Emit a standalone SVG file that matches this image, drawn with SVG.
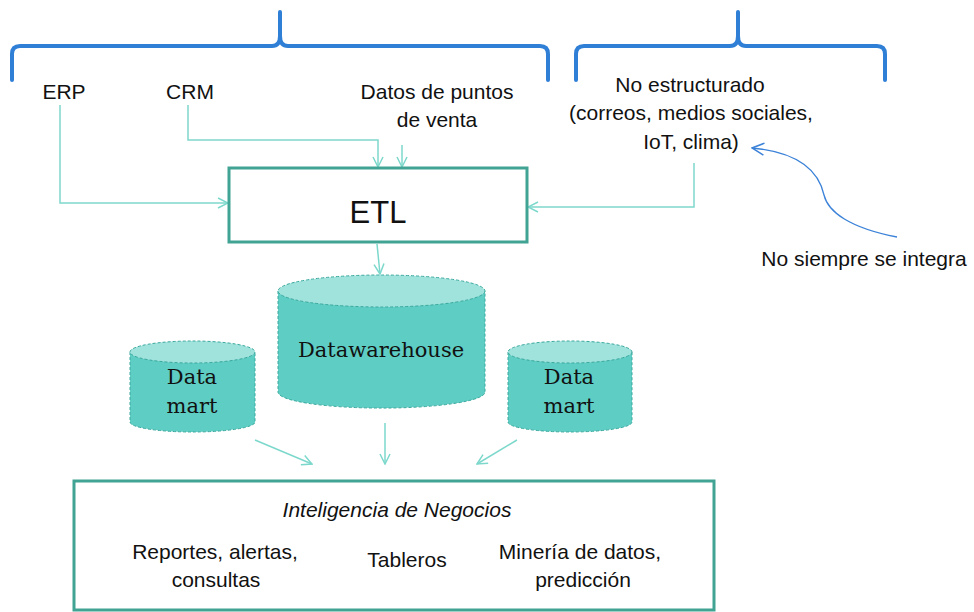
<svg xmlns="http://www.w3.org/2000/svg" width="974" height="612" viewBox="0 0 974 612">
<style>
.t{font-family:"Liberation Sans",Arial,sans-serif;font-size:21px;fill:#111;text-anchor:middle}
.s{font-family:"DejaVu Serif","Liberation Serif",serif;font-size:21px;fill:#111;text-anchor:middle}
.brace{fill:none;stroke:#2f7fd6;stroke-width:4;stroke-linecap:round;stroke-linejoin:round}
.conn{fill:none;stroke:#7dd8cc;stroke-width:1.5}
.box{fill:#fff;stroke:#40a393;stroke-width:3}
.cylb{fill:#5ecdc3;stroke:#3aa89e;stroke-width:1;stroke-dasharray:3 2}
.cylt{fill:#a0e2dc;stroke:#3aa89e;stroke-width:1;stroke-dasharray:3 2}
</style>
<defs>
<marker id="ah" viewBox="0 0 12 12" refX="11" refY="6" markerWidth="12" markerHeight="12" markerUnits="userSpaceOnUse" orient="auto">
<path d="M1 1 L11 6 L1 11" fill="none" stroke="#7dd8cc" stroke-width="1.5"/>
</marker>
<marker id="ab" viewBox="0 0 14 14" refX="13" refY="7" markerWidth="14" markerHeight="14" markerUnits="userSpaceOnUse" orient="auto">
<path d="M1 1 L13 7 L1 13" fill="none" stroke="#3b82d8" stroke-width="1.5"/>
</marker>
</defs>
<g id="braces">
<path class="brace" d="M12 80 L12 54 Q12 46 20 46 L272 46 Q280 46 280 36 L280 12 L280 36 Q280 46 288 46 L540 46 Q548 46 548 54 L548 80"/>
<path class="brace" d="M576 80 L576 54 Q576 46 584 46 L730 46 Q738 46 738 36 L738 12 L738 36 Q738 46 746 46 L877 46 Q885 46 885 54 L885 80"/>
</g>
<g id="connectors">
<path class="conn" d="M60 105 L60 203 L228 203" marker-end="url(#ah)"/>
<path class="conn" d="M188 105 L188 140 L378 140 L378 167" marker-end="url(#ah)"/>
<path class="conn" d="M402 145 L402 167" marker-end="url(#ah)"/>
<path class="conn" d="M694 163 L694 207 L528 207" marker-end="url(#ah)"/>
<path class="conn" d="M377 244 L380 274" marker-end="url(#ah)"/>
<path class="conn" d="M255 440 L312 464" marker-end="url(#ah)"/>
<path class="conn" d="M385 423 L385 464" marker-end="url(#ah)"/>
<path class="conn" d="M517 440 L477 464" marker-end="url(#ah)"/>
<path d="M897 237 C850 228 828 212 824 195 C818 168 795 152 752 148" fill="none" stroke="#3b82d8" stroke-width="1.3" marker-end="url(#ab)"/>
</g>
<g id="erp"><text class="t" x="64" y="99">ERP</text></g>
<g id="crm"><text class="t" x="190" y="99">CRM</text></g>
<g id="pos"><text class="t" x="437" y="99">Datos de puntos</text><text class="t" x="437" y="127">de venta</text></g>
<g id="unstructured">
<text class="t" x="690" y="92">No estructurado</text>
<text class="t" x="691" y="120">(correos, medios sociales,</text>
<text class="t" x="691" y="149">IoT, clima)</text>
</g>
<g id="note"><text class="t" x="864" y="266">No siempre se integra</text></g>
<g id="etl">
<rect class="box" x="229" y="168" width="298" height="74"/>
<text class="t" x="378" y="223" style="font-size:31px">ETL</text>
</g>
<g id="datawarehouse">
<path class="cylb" d="M278 291 L278 392 A103 16 0 0 0 485 392 L485 291"/>
<ellipse class="cylt" cx="381.5" cy="291" rx="103.5" ry="16"/>
<text class="s" x="381" y="357">Datawarehouse</text>
</g>
<g id="datamart-left">
<path class="cylb" d="M130 352 L130 422 A62.5 10 0 0 0 255 422 L255 352"/>
<ellipse class="cylt" cx="192.5" cy="352" rx="62.5" ry="11"/>
<text class="s" x="192" y="384">Data</text>
<text class="s" x="192" y="413">mart</text>
</g>
<g id="datamart-right">
<path class="cylb" d="M508 352 L508 422 A62 10 0 0 0 632 422 L632 352"/>
<ellipse class="cylt" cx="570" cy="352" rx="62" ry="11"/>
<text class="s" x="569" y="384">Data</text>
<text class="s" x="569" y="413">mart</text>
</g>
<g id="bi">
<rect class="box" x="74" y="481" width="640" height="129"/>
<text class="t" x="397" y="517" style="font-style:italic">Inteligencia de Negocios</text>
<text class="t" x="215" y="559">Reportes, alertas,</text>
<text class="t" x="216" y="587">consultas</text>
<text class="t" x="407" y="567">Tableros</text>
<text class="t" x="580" y="559">Minería de datos,</text>
<text class="t" x="583" y="587">predicción</text>
</g>
</svg>
